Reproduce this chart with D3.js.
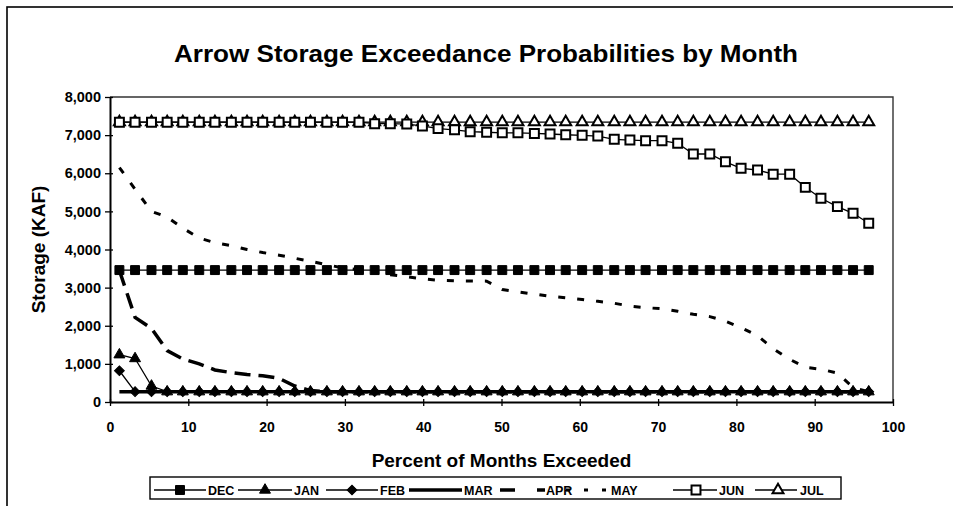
<!DOCTYPE html>
<html>
<head>
<meta charset="utf-8">
<script src="https://cdn.jsdelivr.net/npm/d3@7"></script>
<style>
  body { margin: 0; background: #fff; }
  svg text { font-family: "Liberation Sans", Arial, Helvetica, sans-serif; font-weight: bold; fill: #000; }
</style>
</head>
<body>
<div id="chart"></div>
<script>
// percent of months exceeded (plotting positions)
var pct = [1.2, 3.2, 5.3, 7.3, 9.3, 11.4, 13.4, 15.5, 17.5, 19.5, 21.6, 23.6, 25.6, 27.7, 29.7, 31.8,
  33.8, 35.8, 37.9, 39.9, 41.9, 44.0, 46.0, 48.1, 50.1, 52.1, 54.2, 56.2, 58.2, 60.3, 62.3, 64.4,
  66.4, 68.4, 70.5, 72.5, 74.5, 76.6, 78.6, 80.6, 82.7, 84.7, 86.8, 88.8, 90.8, 92.9, 94.9, 96.9];

var months = ["DEC", "JAN", "FEB", "MAR", "APR", "MAY", "JUN", "JUL"];

// storage, KAF
var dec = [3460, 3460, 3460, 3460, 3460, 3460, 3460, 3460, 3460, 3460, 3460, 3460, 3460, 3460, 3460, 3460,
  3460, 3460, 3460, 3460, 3460, 3460, 3460, 3460, 3460, 3460, 3460, 3460, 3460, 3460, 3460, 3460,
  3460, 3460, 3460, 3460, 3460, 3460, 3460, 3460, 3460, 3460, 3460, 3460, 3460, 3460, 3460, 3460];
var jan = [1240, 1140, 420, 270, 270, 270, 270, 270, 270, 270, 270, 270, 270, 270, 270, 270,
  270, 270, 270, 270, 270, 270, 270, 270, 270, 270, 270, 270, 270, 270, 270, 270,
  270, 270, 270, 270, 270, 270, 270, 270, 270, 270, 270, 270, 270, 270, 270, 270];
var feb = [820, 270, 270, 270, 270, 270, 270, 270, 270, 270, 270, 270, 270, 270, 270, 270,
  270, 270, 270, 270, 270, 270, 270, 270, 270, 270, 270, 270, 270, 270, 270, 270,
  270, 270, 270, 270, 270, 270, 270, 270, 270, 270, 270, 270, 270, 270, 270, 270];
var mar = [270, 270, 270, 270, 270, 270, 270, 270, 270, 270, 270, 270, 270, 270, 270, 270,
  270, 270, 270, 270, 270, 270, 270, 270, 270, 270, 270, 270, 270, 270, 270, 270,
  270, 270, 270, 270, 270, 270, 270, 270, 270, 270, 270, 270, 270, 270, 270, 270];
var apr = [3450, 2220, 1930, 1350, 1130, 1000, 840, 770, 720, 690, 620, 420, 300, 270, 270, 270,
  270, 270, 270, 270, 270, 270, 270, 270, 270, 270, 270, 270, 270, 270, 270, 270,
  270, 270, 270, 270, 270, 270, 270, 270, 270, 270, 270, 270, 270, 270, 270, 270];
var may = [6150, 5580, 5000, 4850, 4560, 4300, 4180, 4100, 4000, 3920, 3850, 3770, 3690, 3600, 3520, 3470,
  3420, 3340, 3290, 3230, 3195, 3180, 3175, 3170, 2950, 2890, 2830, 2770, 2735, 2690, 2640, 2590,
  2515, 2475, 2445, 2380, 2300, 2240, 2120, 1950, 1740, 1400, 1120, 910, 860, 760, 380, 270];
var jun = [7340, 7340, 7340, 7340, 7340, 7340, 7340, 7340, 7340, 7340, 7340, 7340, 7340, 7340, 7340, 7340,
  7300, 7300, 7290, 7240, 7170, 7140, 7090, 7075, 7060, 7060, 7045, 7030, 7010, 6995, 6975, 6890,
  6870, 6855, 6855, 6785, 6505, 6505, 6300, 6130, 6085, 5975, 5975, 5630, 5345, 5125, 4950, 4690];
var jul = [7340, 7340, 7340, 7340, 7340, 7340, 7340, 7340, 7340, 7340, 7340, 7340, 7340, 7340, 7340, 7340,
  7340, 7340, 7340, 7340, 7340, 7340, 7340, 7340, 7340, 7340, 7340, 7340, 7340, 7340, 7340, 7340,
  7340, 7340, 7340, 7340, 7340, 7340, 7340, 7340, 7340, 7340, 7340, 7340, 7340, 7340, 7340, 7340];

var xTicks = [0, 10, 20, 30, 40, 50, 60, 70, 80, 90, 100];
var yTicks = [0, 1000, 2000, 3000, 4000, 5000, 6000, 7000, 8000];

var values = { DEC: dec, JAN: jan, FEB: feb, MAR: mar, APR: apr, MAY: may, JUN: jun, JUL: jul };

// line / marker look of each month
var look = {
  DEC: { w: 1.3, dash: null, mark: "square", fill: "#000" },
  JAN: { w: 1.3, dash: null, mark: "triangle", fill: "#000" },
  FEB: { w: 1.3, dash: null, mark: "diamond", fill: "#000" },
  MAR: { w: 3.5, dash: null, mark: null },
  APR: { w: 3.5, dash: "16,8", legDash: "15,22", mark: null },
  MAY: { w: 3, dash: "7,12", legDash: "4,14", mark: null },
  JUN: { w: 1.3, dash: null, mark: "square", fill: "#fff" },
  JUL: { w: 1.3, dash: null, mark: "triangle", fill: "#fff" }
};
// draw order: JUL under JUN so the squares show where they sit together
var drawOrder = ["DEC", "JAN", "FEB", "MAR", "APR", "MAY", "JUL", "JUN"];

var W = 953, H = 506;
var margin = { top: 97, right: 60, bottom: 104, left: 110 };

var svg = d3.select("#chart").append("svg")
  .attr("width", W).attr("height", H);

// outer chart frame (right / bottom run off the page like the scan)
svg.append("rect")
  .attr("x", 7).attr("y", 7).attr("width", 980).attr("height", 540)
  .attr("fill", "none").attr("stroke", "#000").attr("stroke-width", 1.6);

var x = d3.scaleLinear().domain([0, 100]).range([margin.left, W - margin.right]);
var y = d3.scaleLinear().domain([0, 8000]).range([H - margin.bottom, margin.top]);

// plot area border (top and right)
svg.append("path")
  .attr("d", "M" + x(0) + "," + y(8000) + "H" + x(100) + "V" + y(0))
  .attr("fill", "none").attr("stroke", "#333").attr("stroke-width", 1.4);

// axes
var gx = svg.append("g")
  .attr("transform", "translate(0," + y(0) + ")")
  .call(d3.axisBottom(x).tickValues(xTicks).tickSize(4).tickSizeOuter(0));
gx.selectAll(".tick line").attr("y1", -3).attr("stroke-width", 1.3);
gx.selectAll(".tick text").attr("y", 30).attr("dy", 0).style("font-size", "14px");
gx.select(".domain").attr("stroke-width", 2);

var gy = svg.append("g")
  .attr("transform", "translate(" + x(0) + ",0)")
  .call(d3.axisLeft(y).tickValues(yTicks).tickSize(5).tickSizeOuter(0).tickFormat(d3.format(",")));
gy.selectAll(".tick line").attr("x1", 3).attr("stroke-width", 1.3);
gy.selectAll(".tick text").attr("x", -9).style("font-size", "14.5px");
gy.select(".domain").attr("stroke-width", 2);

// titles
svg.append("text")
  .attr("x", 486).attr("y", 62)
  .attr("text-anchor", "middle")
  .attr("textLength", 624).attr("lengthAdjust", "spacingAndGlyphs")
  .style("font-size", "24px")
  .text("Arrow Storage Exceedance Probabilities by Month");

svg.append("text")
  .attr("x", (x(0) + x(100)) / 2).attr("y", 467)
  .attr("text-anchor", "middle")
  .style("font-size", "19px")
  .text("Percent of Months Exceeded");

svg.append("text")
  .attr("transform", "translate(45," + (y(0) + y(8000)) / 2 + ") rotate(-90)")
  .attr("text-anchor", "middle")
  .style("font-size", "19px")
  .text("Storage (KAF)");

// markers (diamond = square turned 45 degrees)
var symType = { square: d3.symbolSquare, triangle: d3.symbolTriangle, diamond: d3.symbolSquare };
var symSize = { square: 80, triangle: 52, diamond: 48 };

function marker(g, kind, fill, tx, ty) {
  return g.append("path")
    .attr("d", d3.symbol(symType[kind], symSize[kind])())
    .attr("fill", fill)
    .attr("stroke", "#000")
    .attr("stroke-width", fill === "#fff" ? 2 : 1)
    .attr("transform", "translate(" + tx + "," + ty + ")" + (kind === "diamond" ? " rotate(45)" : ""));
}

var line = d3.line()
  .x(function(d) { return x(d.p); })
  .y(function(d) { return y(d.v); });

drawOrder.forEach(function(m) {
  var st = look[m];
  var pts = pct.map(function(p, i) { return { p: p, v: values[m][i] }; });
  var g = svg.append("g").attr("class", "series-" + m);
  g.append("path")
    .datum(pts)
    .attr("d", line)
    .attr("fill", "none")
    .attr("stroke", "#000")
    .attr("stroke-width", st.w)
    .attr("stroke-dasharray", st.dash);
  if (st.mark) {
    pts.forEach(function(d) {
      marker(g, st.mark, st.fill, x(d.p), y(d.v));
    });
  }
});

// legend
var legTop = 477, legH = 22, legLeft = 150, legRight = 841;
var legLineY = 490;
// sample line start/end and label start for each entry
var legSlots = [
  [154, 206, 208], [238, 292, 294], [326, 378, 380], [409, 462, 464],
  [500, 545, 546], [566, 608, 611], [673, 717, 719], [755, 797, 800]
];

var leg = svg.append("g");
leg.append("rect")
  .attr("x", legLeft).attr("y", legTop)
  .attr("width", legRight - legLeft).attr("height", legH)
  .attr("fill", "#fff").attr("stroke", "#000").attr("stroke-width", 1.4);

months.forEach(function(m, i) {
  var st = look[m], s = legSlots[i];
  leg.append("line")
    .attr("x1", s[0]).attr("x2", s[1])
    .attr("y1", legLineY).attr("y2", legLineY)
    .attr("stroke", "#000")
    .attr("stroke-width", st.w)
    .attr("stroke-dasharray", st.legDash || null);
  if (st.mark) {
    var mx = (m === "JUN" || m === "JUL") ? s[0] + 23 : (s[0] + s[1]) / 2;
    marker(leg, st.mark, st.fill, mx, legLineY);
  }
  leg.append("text")
    .attr("x", s[2]).attr("y", legLineY + 5)
    .style("font-size", "12.5px")
    .text(m);
});
</script>
</body>
</html>
